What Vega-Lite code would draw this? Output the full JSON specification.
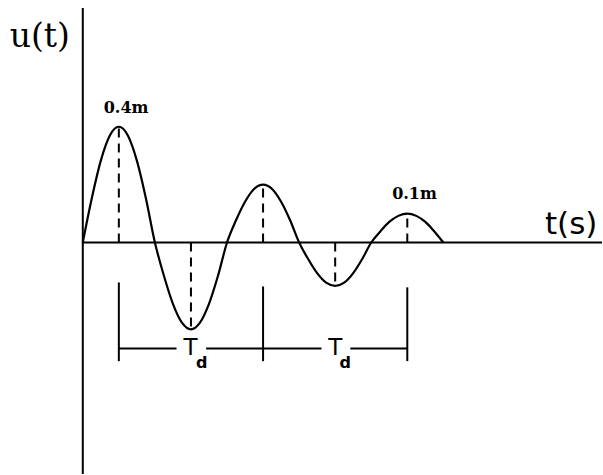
{
  "$schema": "https://vega.github.io/schema/vega-lite/v6.json",
  "width": 603,
  "height": 475,
  "padding": 0,
  "autosize": {"type": "fit", "contains": "padding"},
  "config": {"view": {"stroke": null}},
  "background": "white",
  "datasets": {
    "curve": [
      {"t": 0, "u": 0}, {"t": 0.0625, "u": 0.153}, {"t": 0.125, "u": 0.283}, {"t": 0.1875, "u": 0.37}, {"t": 0.25, "u": 0.4},
      {"t": 0.3125, "u": 0.37}, {"t": 0.375, "u": 0.283}, {"t": 0.4375, "u": 0.153}, {"t": 0.5, "u": 0},
      {"t": 0.5625, "u": -0.115}, {"t": 0.625, "u": -0.212}, {"t": 0.6875, "u": -0.277}, {"t": 0.75, "u": -0.3},
      {"t": 0.8125, "u": -0.277}, {"t": 0.875, "u": -0.212}, {"t": 0.9375, "u": -0.115}, {"t": 1.0, "u": 0},
      {"t": 1.0625, "u": 0.077}, {"t": 1.125, "u": 0.141}, {"t": 1.1875, "u": 0.185}, {"t": 1.25, "u": 0.2},
      {"t": 1.3125, "u": 0.185}, {"t": 1.375, "u": 0.141}, {"t": 1.4375, "u": 0.077}, {"t": 1.5, "u": 0},
      {"t": 1.5625, "u": -0.057}, {"t": 1.625, "u": -0.106}, {"t": 1.6875, "u": -0.139}, {"t": 1.75, "u": -0.15},
      {"t": 1.8125, "u": -0.139}, {"t": 1.875, "u": -0.106}, {"t": 1.9375, "u": -0.057}, {"t": 2.0, "u": 0},
      {"t": 2.0625, "u": 0.038}, {"t": 2.125, "u": 0.071}, {"t": 2.1875, "u": 0.092}, {"t": 2.25, "u": 0.1},
      {"t": 2.3125, "u": 0.092}, {"t": 2.375, "u": 0.071}, {"t": 2.4375, "u": 0.038}, {"t": 2.5, "u": 0}
    ],
    "dashed": [
      {"t": 0.25, "u1": 0, "u2": 0.4},
      {"t": 0.75, "u1": 0, "u2": -0.3},
      {"t": 1.25, "u1": 0, "u2": 0.2},
      {"t": 1.75, "u1": 0, "u2": -0.15},
      {"t": 2.25, "u1": 0, "u2": 0.1}
    ],
    "vbracket": [
      {"t": 0.25, "u1": -0.138, "u2": -0.41},
      {"t": 1.25, "u1": -0.152, "u2": -0.41},
      {"t": 2.25, "u1": -0.155, "u2": -0.41}
    ],
    "hbracket": [
      {"t1": 0.25, "t2": 0.65, "u": -0.366},
      {"t1": 0.855, "t2": 1.25, "u": -0.366},
      {"t1": 1.25, "t2": 1.655, "u": -0.366},
      {"t1": 1.855, "t2": 2.25, "u": -0.366}
    ],
    "axes": [
      {"t1": 0, "t2": 0, "u1": -0.8, "u2": 0.81},
      {"t1": 0, "t2": 3.6, "u1": 0, "u2": 0}
    ],
    "amp": [
      {"t": 0.3, "u": 0.466, "label": "0.4m"},
      {"t": 2.3, "u": 0.166, "label": "0.1m"}
    ],
    "Tlab": [
      {"t": 0.747, "u": -0.364, "label": "T"},
      {"t": 1.751, "u": -0.364, "label": "T"}
    ],
    "dlab": [
      {"t": 0.824, "u": -0.417, "label": "d"},
      {"t": 1.82, "u": -0.417, "label": "d"}
    ],
    "ylab": [{"t": -0.298, "u": 0.71, "label": "u(t)"}],
    "xlab": [{"t": 3.204, "u": 0.062, "label": "t(s)"}]
  },
  "layer": [
    {
      "data": {"name": "axes"},
      "mark": {"type": "rule", "color": "black", "strokeWidth": 2},
      "encoding": {
        "x": {"field": "t1", "type": "quantitative", "scale": {"domain": [-0.574, 3.6], "nice": false, "zero": false}, "axis": null},
        "x2": {"field": "t2"},
        "y": {"field": "u1", "type": "quantitative", "scale": {"domain": [-0.8, 0.838], "nice": false, "zero": false}, "axis": null},
        "y2": {"field": "u2"}
      }
    },
    {
      "data": {"name": "dashed"},
      "mark": {"type": "rule", "color": "black", "strokeWidth": 2, "strokeDash": [9, 6]},
      "encoding": {
        "x": {"field": "t", "type": "quantitative"},
        "y": {"field": "u1", "type": "quantitative"},
        "y2": {"field": "u2"}
      }
    },
    {
      "data": {"name": "vbracket"},
      "mark": {"type": "rule", "color": "black", "strokeWidth": 2},
      "encoding": {
        "x": {"field": "t", "type": "quantitative"},
        "y": {"field": "u1", "type": "quantitative"},
        "y2": {"field": "u2"}
      }
    },
    {
      "data": {"name": "hbracket"},
      "mark": {"type": "rule", "color": "black", "strokeWidth": 2},
      "encoding": {
        "x": {"field": "t1", "type": "quantitative"},
        "x2": {"field": "t2"},
        "y": {"field": "u", "type": "quantitative"}
      }
    },
    {
      "data": {"name": "curve"},
      "mark": {"type": "line", "color": "black", "strokeWidth": 2.2, "interpolate": "monotone"},
      "encoding": {
        "x": {"field": "t", "type": "quantitative"},
        "y": {"field": "u", "type": "quantitative"}
      }
    },
    {
      "data": {"name": "amp"},
      "mark": {"type": "text", "font": "DejaVu Serif", "fontWeight": "bold", "fontSize": 16, "align": "center", "baseline": "middle", "color": "black"},
      "encoding": {
        "x": {"field": "t", "type": "quantitative"},
        "y": {"field": "u", "type": "quantitative"},
        "text": {"field": "label"}
      }
    },
    {
      "data": {"name": "Tlab"},
      "mark": {"type": "text", "font": "DejaVu Sans", "fontSize": 23, "align": "center", "baseline": "middle", "color": "black"},
      "encoding": {
        "x": {"field": "t", "type": "quantitative"},
        "y": {"field": "u", "type": "quantitative"},
        "text": {"field": "label"}
      }
    },
    {
      "data": {"name": "dlab"},
      "mark": {"type": "text", "font": "DejaVu Sans", "fontWeight": "bold", "fontSize": 16, "align": "center", "baseline": "middle", "color": "black"},
      "encoding": {
        "x": {"field": "t", "type": "quantitative"},
        "y": {"field": "u", "type": "quantitative"},
        "text": {"field": "label"}
      }
    },
    {
      "data": {"name": "ylab"},
      "mark": {"type": "text", "font": "DejaVu Serif", "fontSize": 33, "align": "center", "baseline": "middle", "color": "black"},
      "encoding": {
        "x": {"field": "t", "type": "quantitative"},
        "y": {"field": "u", "type": "quantitative"},
        "text": {"field": "label"}
      }
    },
    {
      "data": {"name": "xlab"},
      "mark": {"type": "text", "font": "DejaVu Sans", "fontSize": 31, "align": "left", "baseline": "middle", "color": "black"},
      "encoding": {
        "x": {"field": "t", "type": "quantitative"},
        "y": {"field": "u", "type": "quantitative"},
        "text": {"field": "label"}
      }
    }
  ]
}
